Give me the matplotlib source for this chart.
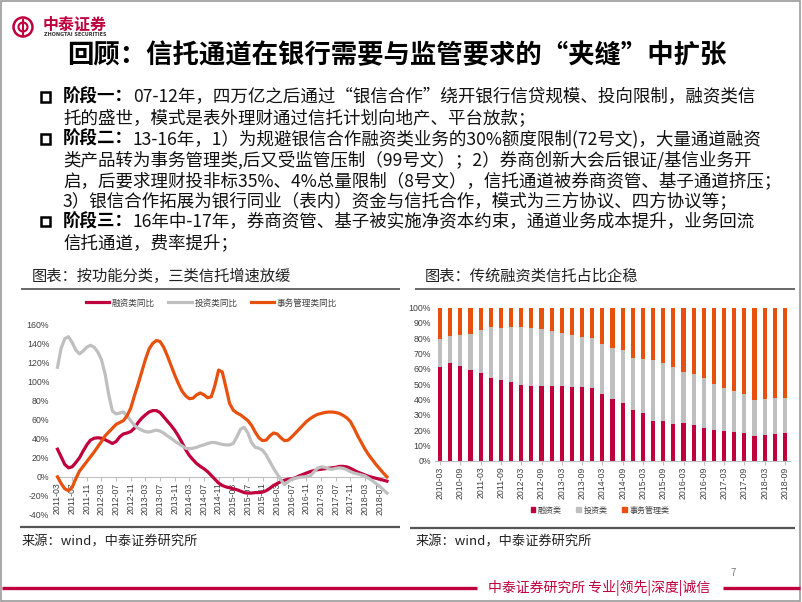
import matplotlib
matplotlib.use('Agg')
import matplotlib.pyplot as plt
from matplotlib.lines import Line2D
from matplotlib.patches import Rectangle, Circle, Patch
import pandas as pd

plt.rcParams['font.family'] = ['Noto Sans CJK SC', 'DejaVu Sans']
plt.rcParams['axes.unicode_minus'] = False

# ---------------- data ----------------
month_labels = [p.strftime('%Y-%m') for p in pd.period_range('2011-03', '2018-09', freq='M')]

fin_yoy = [29, 21, 13, 9.5, 10.5, 15, 20, 27, 33.5, 38.5,
           40.5, 41, 40.5, 39, 37, 35, 37, 42, 45, 46,
           47.5, 51, 57, 61.5, 65, 68, 69.5, 69.5, 67.5, 63,
           58.5, 54, 49, 43, 36, 28.5, 22.5, 18, 14, 11,
           8.5, 5.5, 1.5, -2.5, -6.5, -9, -10.5, -11.5, -12.5, -13.5,
           -15, -16.5, -17, -17, -16.5, -16.5, -16, -14.5, -12, -9,
           -7, -5, -3.5, -2.5, -2, -1, 1, 2.5, 4, 5.5,
           6.5, 7.5, 8, 8.5, 9, 9.5, 10, 11, 11, 10.5,
           9, 7, 5, 3.5, 2, 0.5, -0.5, -1.5, -2.5, -3.5,
           -4.5]
inv_yoy = [115, 135, 145, 147, 141, 133, 129, 132, 136, 138,
           136, 131, 123, 108, 86, 69, 66, 67, 68, 64,
           59, 54, 51, 49, 47.5, 47, 48, 49, 48, 46,
           43, 40.5, 37.5, 35, 32.5, 30, 29.5, 30, 31, 32.5,
           33.5, 35, 36, 36, 35, 34, 33.5, 33.5, 35, 42,
           50, 52, 46, 36, 31, 30, 28, 23, 16, 9,
           3, -3, -8, -5, -2.5, -1.5, -0.5, 0, 0, 1,
           5, 9, 10.5, 10, 8.5, 8, 9, 9.5, 9, 7.5,
           5.5, 4, 3, 2, 1, -1.5, -4, -7, -10, -13.5,
           -17]
adm_yoy = [0, -7, -12.5, -14.5, -11, -2, 6, 11, 16, 21,
           26, 31.5, 37, 43, 47, 51, 55, 57, 59, 64,
           72, 85, 97, 110, 123, 134, 140, 143, 142, 136,
           127, 117, 107, 98, 90, 85, 82, 82.5, 86, 88,
           86, 83, 84, 96, 112, 110, 94, 77, 70, 67,
           65, 62, 59, 54, 47, 41, 38, 38.5, 43, 46,
           45, 41, 38, 38.5, 42, 46, 50, 54, 58, 61,
           63.5, 65.5, 66.5, 67.5, 68, 68, 67.5, 66.5, 64.5, 62,
           58, 51, 43, 36, 29, 23, 18, 13, 8.5, 4,
           0]

quarter_labels = [f"{p.year}-{p.quarter * 3:02d}" for p in pd.period_range('2010Q1', '2018Q3', freq='Q')]
fin_share = [61.4, 63.6, 61.7, 59.0, 57.2, 54.0, 52.5, 51.2, 49.7, 48.8,
             48.8, 48.7, 48.5, 48.3, 48.0, 47.5, 43.6, 40.3, 37.7, 33.1,
             30.9, 26.1, 25.9, 24.0, 24.4, 23.1, 21.6, 20.3, 19.6, 19.0,
             17.9, 16.3, 16.8, 17.6, 17.9]
inv_share = [18.1, 17.7, 20.4, 23.8, 28.2, 33.6, 34.0, 36.4, 37.9, 38.1,
             37.3, 35.8, 34.9, 33.6, 32.8, 32.9, 32.4, 33.1, 34.6, 34.2,
             35.5, 39.5, 37.7, 37.0, 33.3, 33.3, 32.2, 29.6, 27.7, 26.5,
             25.9, 23.6, 23.5, 23.1, 23.1]
adm_share = [20.5, 18.7, 17.9, 17.2, 14.6, 12.4, 13.5, 12.4, 12.4, 13.1,
             13.9, 15.5, 16.6, 18.1, 19.2, 19.6, 24.0, 26.6, 27.7, 32.7,
             33.6, 34.4, 36.4, 39.0, 42.3, 43.6, 46.2, 50.1, 52.7, 54.5,
             56.2, 60.1, 59.7, 59.3, 59.0]

RED = '#C0003C'
GRAY = '#BFBFBF'
ORANGE = '#E8500E'
TXT = '#404040'

# ---------------- figure ----------------
W, H = 802, 602
fig = plt.figure(figsize=(W / 100, H / 100), dpi=100)


def fx(x):
    return x / W


def fy(y):
    return 1 - y / H


def hline(x0, x1, y, color, lw):
    fig.add_artist(Line2D([fx(x0), fx(x1)], [fy(y), fy(y)], transform=fig.transFigure,
                          color=color, lw=lw, solid_capstyle='butt'))


# slide border
fig.add_artist(Rectangle((0.001, 0.001), 0.997, 0.997, transform=fig.transFigure,
                         fill=False, edgecolor='#9a9a9a', lw=1.2))

# logo
cx, cy = 23 / 100, (H - 27) / 100
fig.add_artist(Circle((cx, cy), 0.095, transform=fig.dpi_scale_trans, fill=False, ec=RED, lw=1.8))
fig.add_artist(Circle((cx, cy), 0.045, transform=fig.dpi_scale_trans, fill=False, ec=RED, lw=1.5))
fig.add_artist(Line2D([cx, cx], [cy - 0.075, cy + 0.075], transform=fig.dpi_scale_trans, color=RED, lw=1.5))
fig.text(fx(43), fy(25), '中泰证券', fontsize=11.5, fontweight='bold', color=RED, va='center', ha='left')
fig.text(fx(44), fy(34.5), 'ZHONGTAI SECURITIES', fontsize=3.5, fontweight='bold', color='#333333',
         va='center', ha='left', family='DejaVu Sans')

# title
fig.text(fx(67), fy(56), '回顾：信托通道在银行需要与监管要求的“夹缝”中扩张', fontsize=19,
         fontweight='bold', va='center', ha='left', color='black')

# bullets
FS = 12.6
EM = FS * 100 / 72
bullets = [
    (97, '阶段一：', '07-12年，四万亿之后通过“银信合作”绕开银行信贷规模、投向限制，融资类信'),
    (118, None, '托的盛世，模式是表外理财通过信托计划向地产、平台放款；'),
    (139, '阶段二：', '13-16年，1）为规避银信合作融资类业务的30%额度限制(72号文)，大量通道融资'),
    (160, None, '类产品转为事务管理类,后又受监管压制（99号文）；2）券商创新大会后银证/基信业务开'),
    (181, None, '启，后要求理财投非标35%、4%总量限制（8号文），信托通道被券商资管、基子通道挤压；'),
    (201.5, None, '3）银信合作拓展为银行同业（表内）资金与信托合作，模式为三方协议、四方协议等；'),
    (222, '阶段三：', '16年中-17年，券商资管、基子被实施净资本约束，通道业务成本提升，业务回流'),
    (243, None, '信托通道，费率提升；'),
]
X0 = 63
for y, lab, txt in bullets:
    if lab:
        fig.add_artist(Rectangle((fx(41), fy(y + 4.5)), fx(9), 9 / H, transform=fig.transFigure,
                                 fill=False, edgecolor='black', lw=1.8))
        fig.text(fx(X0), fy(y), lab, fontsize=FS, fontweight='bold', va='center', ha='left', color='black')
        fig.text(fx(X0 + 4 * EM), fy(y), txt, fontsize=FS, va='center', ha='left', color='#111111')
    else:
        fig.text(fx(X0), fy(y), txt, fontsize=FS, va='center', ha='left', color='#111111')

# captions and separators
fig.text(fx(32), fy(276), '图表：按功能分类，三类信托增速放缓', fontsize=11, va='center', ha='left', color='#222222')
fig.text(fx(425), fy(276), '图表：传统融资类信托占比企稳', fontsize=11, va='center', ha='left', color='#222222')
hline(21, 400, 288.5, '#404040', 1.1)
hline(415, 795, 288.5, '#404040', 1.1)
hline(20, 400, 527, '#555555', 1.6)
hline(410, 795, 528, '#555555', 1.6)
fig.text(fx(22), fy(542), '来源：wind，中泰证券研究所', fontsize=9.5, va='center', ha='left', color='#222222')
fig.text(fx(416), fy(542), '来源：wind，中泰证券研究所', fontsize=9.5, va='center', ha='left', color='#222222')

# footer
hline(2, 477, 588, RED, 2.4)
hline(723, 800, 588, RED, 2.4)
fig.text(fx(599), fy(588), '中泰证券研究所 专业|领先|深度|诚信', fontsize=10, color=RED,
         va='center', ha='center')
fig.text(fx(733), fy(573), '7', fontsize=7, color='#808080', va='center', ha='center')

# ---------------- left chart ----------------
axL = fig.add_axes([fx(57.5), fy(515), fx(387) - fx(57.5), fy(324.3) - fy(515)])
for s in ['top', 'right', 'left']:
    axL.spines[s].set_visible(False)
axL.spines['bottom'].set_position(('data', 0))
axL.spines['bottom'].set_color('#BFBFBF')
axL.spines['bottom'].set_linewidth(0.8)
axL.spines['bottom'].set_zorder(0)
xs = list(range(len(month_labels)))
l1, = axL.plot(xs, fin_yoy, color=RED, lw=2.3, label='融资类同比', clip_on=False, solid_joinstyle='round')
l2, = axL.plot(xs, inv_yoy, color=GRAY, lw=2.3, label='投资类同比', clip_on=False, solid_joinstyle='round')
l3, = axL.plot(xs, adm_yoy, color=ORANGE, lw=2.3, label='事务管理类同比', clip_on=False, solid_joinstyle='round')
axL.set_xlim(0, len(month_labels) - 1)
axL.set_ylim(-40, 160)
yt = list(range(-40, 161, 20))
axL.set_yticks(yt)
axL.set_yticklabels([f'{v}%' for v in yt], fontsize=6.3, color=TXT, family='Liberation Sans')
xt = xs[::4]
axL.set_xticks(xt)
axL.set_xticklabels(month_labels[::4], rotation=90, fontsize=6.3, color=TXT, family='Liberation Sans')
axL.tick_params(axis='y', length=0, pad=6)
axL.tick_params(axis='x', length=3, color='#BFBFBF', pad=1)
axL.set_facecolor('none')
leg = axL.legend(handles=[l1, l2, l3], ncol=3, loc='center', bbox_to_anchor=(fx(211.5), fy(303)),
                 bbox_transform=fig.transFigure, frameon=False, fontsize=6.2, handlelength=2.7,
                 handletextpad=0.3, columnspacing=1.6)
for t in leg.get_texts():
    t.set_color(TXT)

# ---------------- right chart ----------------
axR = fig.add_axes([fx(435), fy(460.7), fx(790) - fx(435), fy(307.7) - fy(460.7)])
for s in ['top', 'right', 'left']:
    axR.spines[s].set_visible(False)
axR.spines['bottom'].set_color('#BFBFBF')
axR.spines['bottom'].set_linewidth(0.8)
qx = list(range(len(quarter_labels)))
bw = 0.42
axR.bar(qx, fin_share, width=bw, color=RED, label='融资类')
axR.bar(qx, inv_share, width=bw, bottom=fin_share, color=GRAY, label='投资类')
bottom2 = [a + b for a, b in zip(fin_share, inv_share)]
axR.bar(qx, adm_share, width=bw, bottom=bottom2, color=ORANGE, label='事务管理类')
axR.set_xlim(-0.5, len(quarter_labels) - 0.5)
axR.set_ylim(0, 100)
yt2 = list(range(0, 101, 10))
axR.set_yticks(yt2)
axR.set_yticklabels([f'{v}%' for v in yt2], fontsize=6.3, color=TXT, family='Liberation Sans')
axR.set_xticks(qx[::2])
axR.set_xticklabels(quarter_labels[::2], rotation=90, fontsize=6.3, color=TXT, family='Liberation Sans')
axR.tick_params(axis='y', length=0, pad=3)
axR.tick_params(axis='x', length=3, color='#BFBFBF', pad=1)
axR.set_facecolor('none')
handles = [Patch(color=RED, label='融资类'), Patch(color=GRAY, label='投资类'),
           Patch(color=ORANGE, label='事务管理类')]
leg2 = axR.legend(handles=handles, ncol=3, loc='center', bbox_to_anchor=(fx(600), fy(510)),
                  bbox_transform=fig.transFigure, frameon=False, fontsize=5.8, handlelength=0.6,
                  handleheight=0.6, handletextpad=0.3, columnspacing=1.8)
for t in leg2.get_texts():
    t.set_color(TXT)

fig.savefig('out.png', dpi=100)
